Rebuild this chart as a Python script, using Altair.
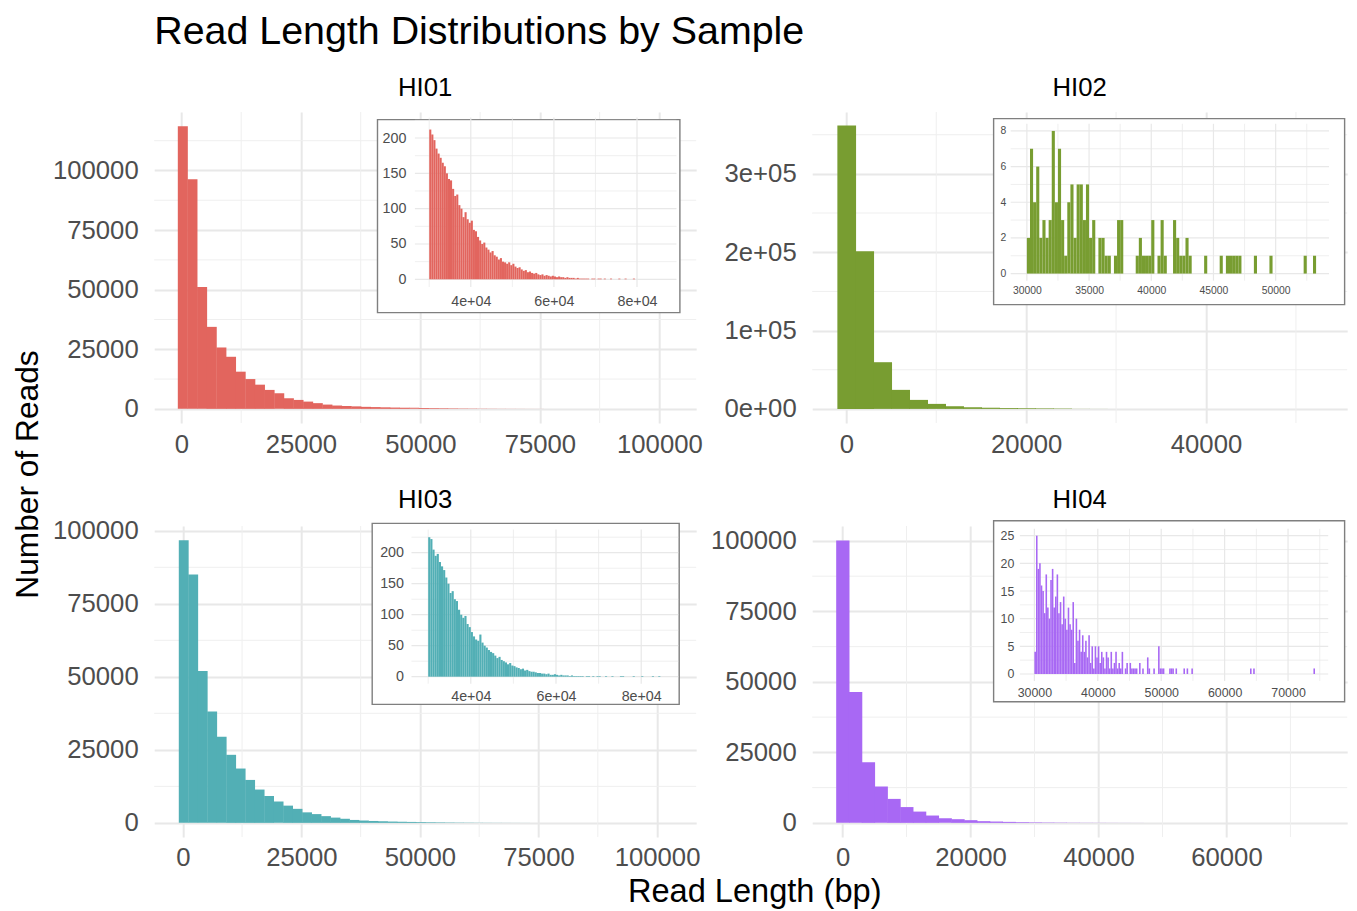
import altair as alt
import pandas as pd

FONT = "Liberation Sans"
LABEL = "#4D4D4D"
GRID_MAJOR = "#E8E8E8"
GRID_MINOR = "#EFEFEF"
BORDER = "#7F7F7F"

# ---------------- data ----------------
SAMPLES = ["HI01", "HI02", "HI03", "HI04"]
COLORS = ["#E2655E", "#789D31", "#52AFB5", "#A868F4"]

# main histograms: first bin start (bp), bin width (bp), counts per bin
HI01_MAIN_START = -760
HI01_MAIN_WIDTH = 2017
HI01_MAIN_COUNTS = [118600, 96300, 51100, 34400, 25750, 21850, 15600, 12500, 10150, 7950,
                    6550, 4450, 3750, 3050, 2400, 1800, 1400, 1200, 1050, 850,
                    750, 650, 550, 480, 420, 360, 300, 250, 200, 150,
                    120, 90, 70, 50, 40, 30, 20, 15, 10, 8, 5, 3]

HI02_MAIN_START = -1000
HI02_MAIN_WIDTH = 2000
HI02_MAIN_COUNTS = [361700, 201300, 59600, 24300, 11500, 6400, 3400, 2100, 1500, 1100,
                    900, 700, 500, 120, 60, 30, 20, 15, 10, 8, 5, 3, 3, 2, 2, 1, 1]

HI03_MAIN_START = -844
HI03_MAIN_WIDTH = 2000
HI03_MAIN_COUNTS = [96800, 85000, 52000, 38100, 29500, 23300, 18600, 14700, 11400, 9200,
                    7300, 5900, 4800, 3600, 3000, 2300, 1800, 1400, 1000, 800,
                    650, 550, 450, 380, 320, 260, 210, 170, 130, 100,
                    80, 60, 45, 35, 25, 18, 12, 8, 5, 3, 2, 1]

HI04_MAIN_START = -1000
HI04_MAIN_WIDTH = 2000
HI04_MAIN_COUNTS = [100200, 46400, 21500, 12900, 8500, 5600, 4000, 2600, 1650, 1300,
                    950, 600, 470, 350, 250, 180, 130, 100, 70, 50,
                    40, 30, 20, 15, 10, 8, 5, 4, 3, 2, 2, 1, 1, 1, 1, 1, 1, 1]

# insets: reads >= 30 kb
HI01_INSET_START = 30000
HI01_INSET_WIDTH = 500
HI01_INSET_COUNTS = [212, 205, 197, 185, 178, 172, 165, 160, 150, 142,
                     140, 128, 118, 120, 105, 100, 88, 95, 85, 80,
                     83, 70, 68, 60, 55, 50, 52, 45, 42, 38,
                     40, 34, 32, 28, 30, 25, 24, 22, 24, 20,
                     22, 18, 16, 17, 14, 12, 13, 10, 11, 9,
                     8, 9, 7, 6, 7, 5, 6, 5, 4, 5,
                     4, 3, 4, 3, 3, 2, 3, 2, 2, 2,
                     1, 2, 1, 1, 1, 1, 1, 0, 1, 1,
                     0, 1, 1, 0, 1, 0, 0, 1, 0, 0,
                     0, 1, 0, 0, 1, 0, 0, 0, 1, 0]

HI03_INSET_START = 30000
HI03_INSET_WIDTH = 500
HI03_INSET_COUNTS = [225, 222, 205, 195, 198, 185, 178, 172, 160, 150,
                     135, 138, 125, 122, 108, 100, 95, 98, 85, 80,
                     72, 65, 60, 58, 68, 55, 50, 47, 43, 40,
                     38, 34, 30, 32, 27, 25, 23, 20, 22, 18,
                     17, 15, 14, 12, 13, 10, 11, 9, 8, 8,
                     7, 6, 6, 5, 5, 4, 5, 3, 3, 4,
                     3, 2, 3, 2, 2, 2, 1, 2, 1, 1,
                     1, 1, 1, 0, 1, 1, 0, 1, 0, 1,
                     1, 0, 0, 1, 0, 0, 1, 0, 0, 0,
                     1, 1, 0, 0, 0, 0, 1, 0, 0, 0,
                     1, 0, 0, 0, 0, 1, 0, 0, 1, 0]

HI02_INSET_WIDTH = 250
HI02_INSET_STARTS = [30000, 30250, 30500, 30750, 31000, 31250, 31500, 31750, 32000, 32250,
                     32500, 32750, 33000, 33250, 33500, 33750, 34000, 34250, 34500, 34750,
                     35000, 35250, 35750, 36000, 36250, 36500, 37000, 37250, 37500, 38750,
                     39000, 39250, 39500, 39750, 40000, 40500, 40750, 41000, 41750, 42000,
                     42250, 42500, 42750, 43000, 44250, 45500, 46000, 46250, 46500, 46750,
                     47000, 48250, 49500, 52250, 53000]
HI02_INSET_COUNTS = [2, 7, 4, 6, 2, 3, 2, 3, 8, 4,
                     7, 3, 1, 4, 5, 2, 5, 5, 3, 5,
                     2, 3, 2, 2, 1, 1, 1, 3, 3, 1,
                     2, 1, 1, 1, 3, 1, 3, 1, 3, 2,
                     1, 1, 2, 1, 1, 1, 1, 1, 1, 1,
                     1, 1, 1, 1, 1]

HI04_INSET_WIDTH = 250
HI04_INSET_DENSE_START = 30000
HI04_INSET_DENSE_COUNTS = [4, 25, 19, 20, 16, 15, 11, 18, 12, 10,
                           17, 19, 12, 14, 18, 11, 13, 9, 14, 10,
                           8, 12, 9, 8, 13, 2, 10, 6, 8, 4,
                           7, 4, 6, 3, 7, 2, 5, 1, 5, 3,
                           5, 2, 4, 3, 1, 4, 3, 1, 4, 1,
                           2, 4, 1, 2, 1, 4, 0, 1, 2, 0]
HI04_INSET_TAIL_STARTS = [45000, 45250, 45500, 45750, 46000, 46500, 47000, 47750, 48000, 48750,
                          49500, 49750, 50000, 50250, 51250, 51500, 51750, 52250, 53500, 54000,
                          54750, 64000, 64500, 74000]
HI04_INSET_TAIL_COUNTS = [2, 1, 1, 1, 1, 2, 1, 3, 1, 1,
                          5, 1, 1, 1, 1, 1, 1, 1, 1, 1,
                          1, 1, 1, 1]

# axis ticks
MAIN_X_TICKS = {"HI01": [0, 25000, 50000, 75000, 100000], "HI02": [0, 20000, 40000],
                "HI03": [0, 25000, 50000, 75000, 100000], "HI04": [0, 20000, 40000, 60000]}
MAIN_X_MINOR = {"HI01": [12500, 37500, 62500, 87500], "HI02": [10000, 30000, 50000],
                "HI03": [12500, 37500, 62500, 87500], "HI04": [10000, 30000, 50000, 70000]}
MAIN_Y_TICKS = {"HI01": [0, 25000, 50000, 75000, 100000], "HI02": [0, 100000, 200000, 300000],
                "HI03": [0, 25000, 50000, 75000, 100000], "HI04": [0, 25000, 50000, 75000, 100000]}
MAIN_Y_MINOR = {"HI01": [12500, 37500, 62500, 87500, 112500], "HI02": [50000, 150000, 250000, 350000],
                "HI03": [12500, 37500, 62500, 87500], "HI04": [12500, 37500, 62500, 87500]}
INSET_X_TICKS = {"HI01": [40000, 60000, 80000], "HI02": [30000, 35000, 40000, 45000, 50000],
                 "HI03": [40000, 60000, 80000], "HI04": [30000, 40000, 50000, 60000, 70000]}
INSET_X_MINOR = {"HI01": [30000, 50000, 70000], "HI02": [32500, 37500, 42500, 47500, 52500],
                 "HI03": [30000, 50000, 70000], "HI04": [35000, 45000, 55000, 65000, 75000]}
INSET_Y_TICKS = {"HI01": [0, 50, 100, 150, 200], "HI02": [0, 2, 4, 6, 8],
                 "HI03": [0, 50, 100, 150, 200], "HI04": [0, 5, 10, 15, 20, 25]}
INSET_Y_MINOR = {"HI01": [25, 75, 125, 175, 225], "HI02": [1, 3, 5, 7],
                 "HI03": [25, 75, 125, 175, 225], "HI04": [2.5, 7.5, 12.5, 17.5, 22.5]}

# axis domains (with ggplot-like padding)
MAIN_X_DOMAIN = {"HI01": [-5700, 107700], "HI02": [-3800, 55700],
                 "HI03": [-6030, 108250], "HI04": [-4750, 78870]}
MAIN_Y_DOMAIN = {"HI01": [-5930, 124530], "HI02": [-18000, 379000],
                 "HI03": [-4840, 101640], "HI04": [-5015, 105300]}
INSET_X_DOMAIN = {"HI01": [26550, 89500], "HI02": [28700, 54290],
                  "HI03": [26080, 88685], "HI04": [27712, 76335]}
INSET_Y_DOMAIN = {"HI01": [-10.9, 228.9], "HI02": [-0.4, 8.4],
                  "HI03": [-11.3, 237.3], "HI04": [-1.25, 26.25]}

# ---------------- layout ----------------
PANEL_W = {"HI01": 542, "HI02": 535, "HI03": 542, "HI04": 535}
H = 311
W_REF = 542.0  # inset geometry below was measured for a 542 px wide panel
INSET_BOX = {"HI01": (223.3, 525.7, 7.6, 200.6), "HI02": (183.8, 539.4, 6.6, 192.6),
             "HI03": (218.0, 525.0, -2.6, 178.4), "HI04": (183.8, 539.4, -5.3, 175.7)}
INSET_PLOT = {"HI01": (260.7, 522.3, 5.6, 175.0), "HI02": (201.1, 523.6, 11.8, 168.7),
              "HI03": (257.3, 524.0, 3.6, 157.7), "HI04": (210.4, 522.8, 2.8, 154.9)}
INSET_FONT = {"HI01": 14.3, "HI02": 10.4, "HI03": 14.3, "HI04": 12.4}
INSET_PAD = {"HI01": (7, 9), "HI02": (5, 5), "HI03": (6, 8), "HI04": (6, 6)}
TITLE_OFFSET = {"HI01": -10.4, "HI02": -10.4, "HI03": -16.0, "HI04": -13.5}
BAR_OVERLAP = 0.04  # fraction of a bin that adjacent main bars overlap (hides seams)

SCI = "replace(format(datum.value, '.0e'), 'e+', 'e+0')"


def bins_df(starts, width, counts, overlap=0.0):
    return pd.DataFrame({"start": starts, "end": [s + width * (1 + overlap) for s in starts],
                         "count": counts})


MAIN = {
    "HI01": bins_df([HI01_MAIN_START + i * HI01_MAIN_WIDTH for i in range(len(HI01_MAIN_COUNTS))],
                    HI01_MAIN_WIDTH, HI01_MAIN_COUNTS, BAR_OVERLAP),
    "HI02": bins_df([HI02_MAIN_START + i * HI02_MAIN_WIDTH for i in range(len(HI02_MAIN_COUNTS))],
                    HI02_MAIN_WIDTH, HI02_MAIN_COUNTS, BAR_OVERLAP),
    "HI03": bins_df([HI03_MAIN_START + i * HI03_MAIN_WIDTH for i in range(len(HI03_MAIN_COUNTS))],
                    HI03_MAIN_WIDTH, HI03_MAIN_COUNTS, BAR_OVERLAP),
    "HI04": bins_df([HI04_MAIN_START + i * HI04_MAIN_WIDTH for i in range(len(HI04_MAIN_COUNTS))],
                    HI04_MAIN_WIDTH, HI04_MAIN_COUNTS, BAR_OVERLAP),
}
INSET = {
    "HI01": bins_df([HI01_INSET_START + i * HI01_INSET_WIDTH for i in range(len(HI01_INSET_COUNTS))],
                    HI01_INSET_WIDTH, HI01_INSET_COUNTS),
    "HI02": bins_df(HI02_INSET_STARTS, HI02_INSET_WIDTH, HI02_INSET_COUNTS),
    "HI03": bins_df([HI03_INSET_START + i * HI03_INSET_WIDTH for i in range(len(HI03_INSET_COUNTS))],
                    HI03_INSET_WIDTH, HI03_INSET_COUNTS),
    "HI04": bins_df([HI04_INSET_DENSE_START + i * HI04_INSET_WIDTH for i in range(len(HI04_INSET_DENSE_COUNTS))]
                    + HI04_INSET_TAIL_STARTS, HI04_INSET_WIDTH,
                    HI04_INSET_DENSE_COUNTS + HI04_INSET_TAIL_COUNTS),
}


def grid_df(major, minor, wmaj, wmin):
    return pd.DataFrame({"v": list(major) + list(minor),
                         "w": [wmaj] * len(major) + [wmin] * len(minor)})


def make_panel(name, color, y_title=False, x_title=False):
    W = PANEL_W[name]
    SX = W / W_REF
    xs = alt.Scale(domain=MAIN_X_DOMAIN[name], nice=False, zero=False)
    ys = alt.Scale(domain=MAIN_Y_DOMAIN[name], nice=False, zero=False)
    common = dict(grid=True, gridColor=GRID_MAJOR, gridWidth=2, domain=False, ticks=False,
                  labelFont=FONT, labelFontSize=25.7, labelColor=LABEL, labelOverlap=False,
                  labelFlush=False)
    xax = dict(common, values=MAIN_X_TICKS[name], format="d", labelPadding=9, title=None)
    if x_title:
        xax.update(title="Read Length (bp)", titleFont=FONT, titleFontSize=32.6, titleFontWeight="normal",
                   titleColor="black", titleX=600, titleY=64.5, titleAlign="center",
                   titleBaseline="alphabetic", titleAngle=0)
    yax = dict(common, values=MAIN_Y_TICKS[name], labelPadding=16, title=None)
    if name == "HI02":
        yax["labelExpr"] = SCI
    else:
        yax["format"] = "d"
    if y_title:
        yax.update(title="Number of Reads", titleFont=FONT, titleFontSize=31.7, titleFontWeight="normal",
                   titleColor="black", titleX=-116.5, titleY=362, titleAlign="center",
                   titleBaseline="alphabetic", titleAngle=270)
    xaxis = alt.Axis(**xax)
    yaxis = alt.Axis(**yax)

    minor_x = alt.Chart(pd.DataFrame({"v": MAIN_X_MINOR[name]})).mark_rule(
        color=GRID_MINOR, strokeWidth=1).encode(x=alt.X("v:Q", scale=xs, axis=xaxis))
    minor_y = alt.Chart(pd.DataFrame({"v": MAIN_Y_MINOR[name]})).mark_rule(
        color=GRID_MINOR, strokeWidth=1).encode(y=alt.Y("v:Q", scale=ys, axis=yaxis))
    bars = alt.Chart(MAIN[name]).mark_rect(color=color, strokeWidth=0).encode(
        x=alt.X("start:Q", scale=xs, axis=xaxis), x2="end:Q",
        y=alt.Y("count:Q", scale=ys, axis=yaxis), y2=alt.datum(0))
    main_layer = alt.layer(minor_x, minor_y, bars)

    bx0, bx1, by0, by1 = INSET_BOX[name]
    px0, px1, py0, py1 = INSET_PLOT[name]
    bx0, bx1, px0, px1 = bx0 * SX, bx1 * SX, px0 * SX, px1 * SX
    box = alt.Chart(pd.DataFrame({"a": [0]})).mark_rect(
        fill="white", stroke=BORDER, strokeWidth=1.4).encode(
        x=alt.value(bx0), x2=alt.value(bx1), y=alt.value(by0), y2=alt.value(by1))

    ixs = alt.Scale(domain=INSET_X_DOMAIN[name], range=[px0, px1], nice=False, zero=False)
    iys = alt.Scale(domain=INSET_Y_DOMAIN[name], range=[py1, py0], nice=False, zero=False)
    fs = INSET_FONT[name]
    padx, pady = INSET_PAD[name]
    icommon = dict(grid=False, domain=False, ticks=False, labelFont=FONT, labelFontSize=fs,
                   labelColor=LABEL, labelOverlap=False, labelFlush=False, title=None, zindex=1)
    ixax = dict(icommon, orient="bottom", offset=py1 - H, values=INSET_X_TICKS[name], labelPadding=padx)
    if name in ("HI01", "HI03"):
        ixax["labelExpr"] = SCI
    else:
        ixax["format"] = "d"
    iyax = dict(icommon, orient="left", offset=-px0, values=INSET_Y_TICKS[name], labelPadding=pady,
                format="d")
    ixaxis = alt.Axis(**ixax)
    iyaxis = alt.Axis(**iyax)

    vgrid = alt.Chart(grid_df(INSET_X_TICKS[name], INSET_X_MINOR[name], 1.2, 0.7)).mark_rule(
        color=GRID_MAJOR).encode(
        x=alt.X("v:Q", scale=ixs, axis=ixaxis), y=alt.value(py0), y2=alt.value(py1),
        strokeWidth=alt.StrokeWidth("w:Q", scale=None, legend=None))
    hgrid = alt.Chart(grid_df(INSET_Y_TICKS[name], INSET_Y_MINOR[name], 1.2, 0.7)).mark_rule(
        color=GRID_MAJOR).encode(
        y=alt.Y("v:Q", scale=iys, axis=iyaxis), x=alt.value(px0), x2=alt.value(px1),
        strokeWidth=alt.StrokeWidth("w:Q", scale=None, legend=None))
    idf = INSET[name][INSET[name]["count"] > 0]
    ibars = alt.Chart(idf).mark_rect(color=color).encode(
        x=alt.X("start:Q", scale=ixs, axis=ixaxis), x2="end:Q",
        y=alt.Y("count:Q", scale=iys, axis=iyaxis), y2=alt.datum(0))
    inset_layer = alt.layer(vgrid, hgrid, ibars)

    return alt.layer(main_layer, box, inset_layer).resolve_scale(
        x="independent", y="independent").properties(
        width=W, height=H,
        title=alt.TitleParams(name, font=FONT, fontSize=25.7, fontWeight="normal", color="black",
                              anchor="middle", frame="group", offset=TITLE_OFFSET[name],
                              baseline="alphabetic"))


panels = [make_panel("HI01", COLORS[0], y_title=True),
          make_panel("HI02", COLORS[1]),
          make_panel("HI03", COLORS[2], x_title=True),
          make_panel("HI04", COLORS[3])]

chart = alt.concat(*panels, columns=2, spacing={"row": 103, "column": 116}, bounds="flush").properties(
    title=alt.TitleParams("Read Length Distributions by Sample", font=FONT, fontSize=39.4,
                          fontWeight="normal", color="black", anchor="start", frame="group",
                          offset=-7.7, baseline="alphabetic", dx=0),
    padding={"left": 4.2, "top": 3, "right": 0, "bottom": 0},
).configure_view(stroke=None)

chart.save("out.html", embed_options={"renderer": "svg", "actions": False})
